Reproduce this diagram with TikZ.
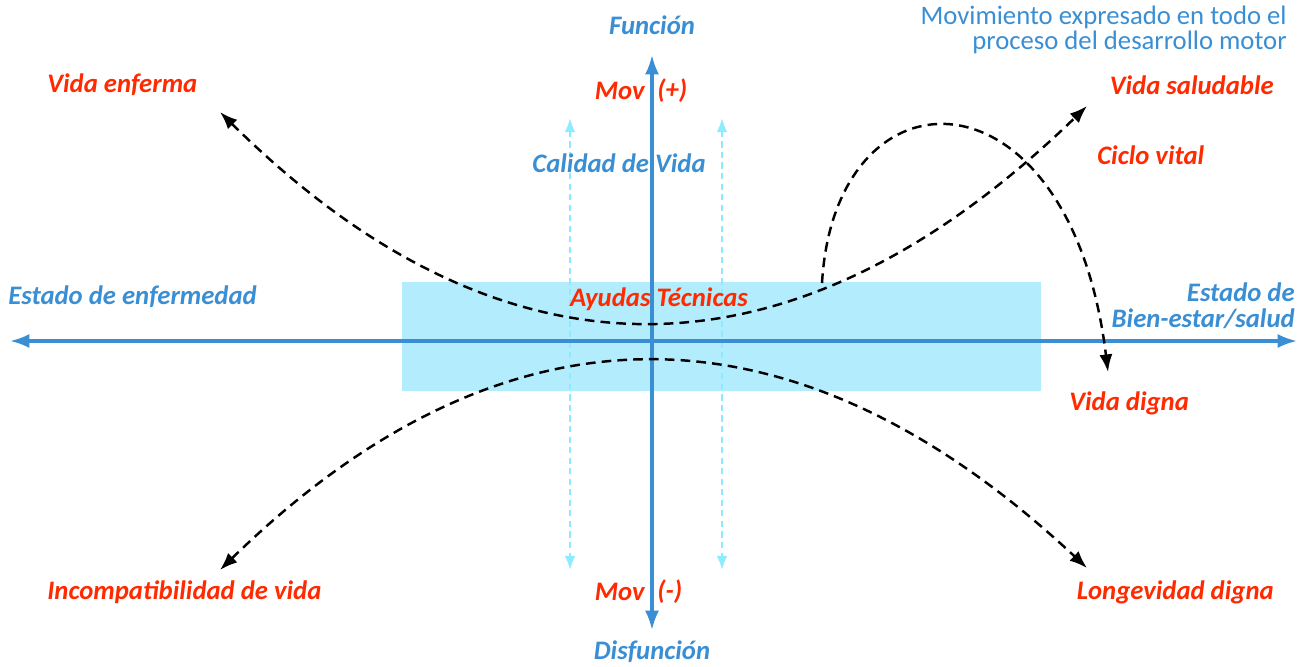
\documentclass[tikz,border=0pt]{standalone}
\usepackage{fontspec}
\setmainfont{Carlito}
\usepackage{tikz}
\usetikzlibrary{arrows.meta, positioning}

\definecolor{axisblue}{HTML}{3A8FD4}
\definecolor{lblred}{HTML}{FF2A00}
\definecolor{boxcyan}{HTML}{B3ECFD}
\definecolor{dashcyan}{HTML}{8CEBFF}

\begin{document}
\begin{tikzpicture}[x=0.02cm, y=-0.02cm, font=\fontsize{15}{17}\selectfont]

  \tikzset{
    redlabel/.style={text=lblred, font=\fontsize{15.2}{17}\selectfont\bfseries\itshape,
      inner sep=0pt},
    bluelabel/.style={text=axisblue, font=\fontsize{15.2}{17}\selectfont\bfseries\itshape,
      inner sep=0pt},
    axisarrow/.style={{Latex[length=11pt,width=8pt]}-{Latex[length=11pt,width=8pt]},
      line width=1.8pt, axisblue},
    guidearrow/.style={{Latex[length=8pt,width=6pt]}-{Latex[length=8pt,width=6pt]},
      line width=1.4pt, dashcyan, dash pattern=on 3.5pt off 2.5pt},
    pathcurve/.style={-{Latex[length=10pt,width=7.5pt]}, line width=1.4pt, black,
      dash pattern=on 5.5pt off 3.5pt}
  }

  % canvas and technical-aids band
  \useasboundingbox[fill=white] (0,0) rectangle (1307,666);
  \fill[boxcyan] (402,282) rectangle (1041,391);

  % axis end points
  \coordinate (west)  at (10,341);
  \coordinate (east)  at (1297,341);
  \coordinate (north) at (652,55);
  \coordinate (south) at (652,630);
  \coordinate (gl1) at (570,118);
  \coordinate (gl2) at (570,570);
  \coordinate (gr1) at (722,118);
  \coordinate (gr2) at (722,570);

  \draw[guidearrow] (gl1) -- (gl2);
  \draw[guidearrow] (gr1) -- (gr2);
  \draw[axisarrow] (west) -- (east);
  \draw[axisarrow] (north) -- (south);

  % curve end points
  \coordinate (ul) at (220,112);
  \coordinate (ur) at (1087,106);
  \coordinate (ll) at (220,570);
  \coordinate (lr) at (1087,568);
  \coordinate (cs) at (822,283);
  \coordinate (ce) at (1108,372);

  \draw[pathcurve, {Latex[length=10pt,width=7.5pt]}-{Latex[length=10pt,width=7.5pt]}]
    (ul) .. controls (504,393) and (793,391) .. (ur);
  \draw[pathcurve, {Latex[length=10pt,width=7.5pt]}-{Latex[length=10pt,width=7.5pt]}]
    (ll) .. controls (504,293) and (793,293) .. (lr);
  \draw[pathcurve] (cs) .. controls (835,60) and (1070,60) .. (ce);

  % axis labels
  \node[bluelabel] (funcion) at (652,25) {Función};
  \node[bluelabel] (disfuncion) at (652,652) {Disfunción};
  \node[bluelabel, anchor=west] (enfermedad) at (8,297) {Estado de enfermedad};
  \node[bluelabel, anchor=east, align=right,
    font=\fontsize{15.2}{15}\selectfont\bfseries\itshape]
    (bienestar) at (1295,306) {Estado de\\Bien-estar/salud};
  \node[bluelabel] (calidad) at (619,163) {Calidad de Vida};
  \node[redlabel, anchor=east] (movmas) at (645,91) {Mov};
  \node[redlabel, anchor=west] (mas) at (657,91) {(+)};
  \node[redlabel, anchor=east] (movmenos) at (645,592) {Mov};
  \node[redlabel, anchor=west] (menos) at (657,592) {(-)};
  \node[redlabel] (ayudas) at (659,299) {Ayudas Técnicas};

  % outcome labels
  \node[redlabel, anchor=west] (enferma) at (47,85) {Vida enferma};
  \node[redlabel, anchor=east] (saludable) at (1274,85) {Vida saludable};
  \node[redlabel, anchor=west] (ciclo) at (1097,155) {Ciclo vital};
  \node[redlabel, anchor=west] (digna) at (1069,403) {Vida digna};
  \node[redlabel, anchor=west] (incompat) at (47,592) {Incompatibilidad de vida};
  \node[redlabel, anchor=east] (longevidad) at (1274,592) {Longevidad digna};

  % note
  \node[anchor=east, align=right, text=axisblue, inner sep=0pt,
    font=\fontsize{15.2}{13}\selectfont] (nota) at (1287,30)
    {Movimiento expresado en todo el\\proceso del desarrollo motor};

\end{tikzpicture}
\end{document}
